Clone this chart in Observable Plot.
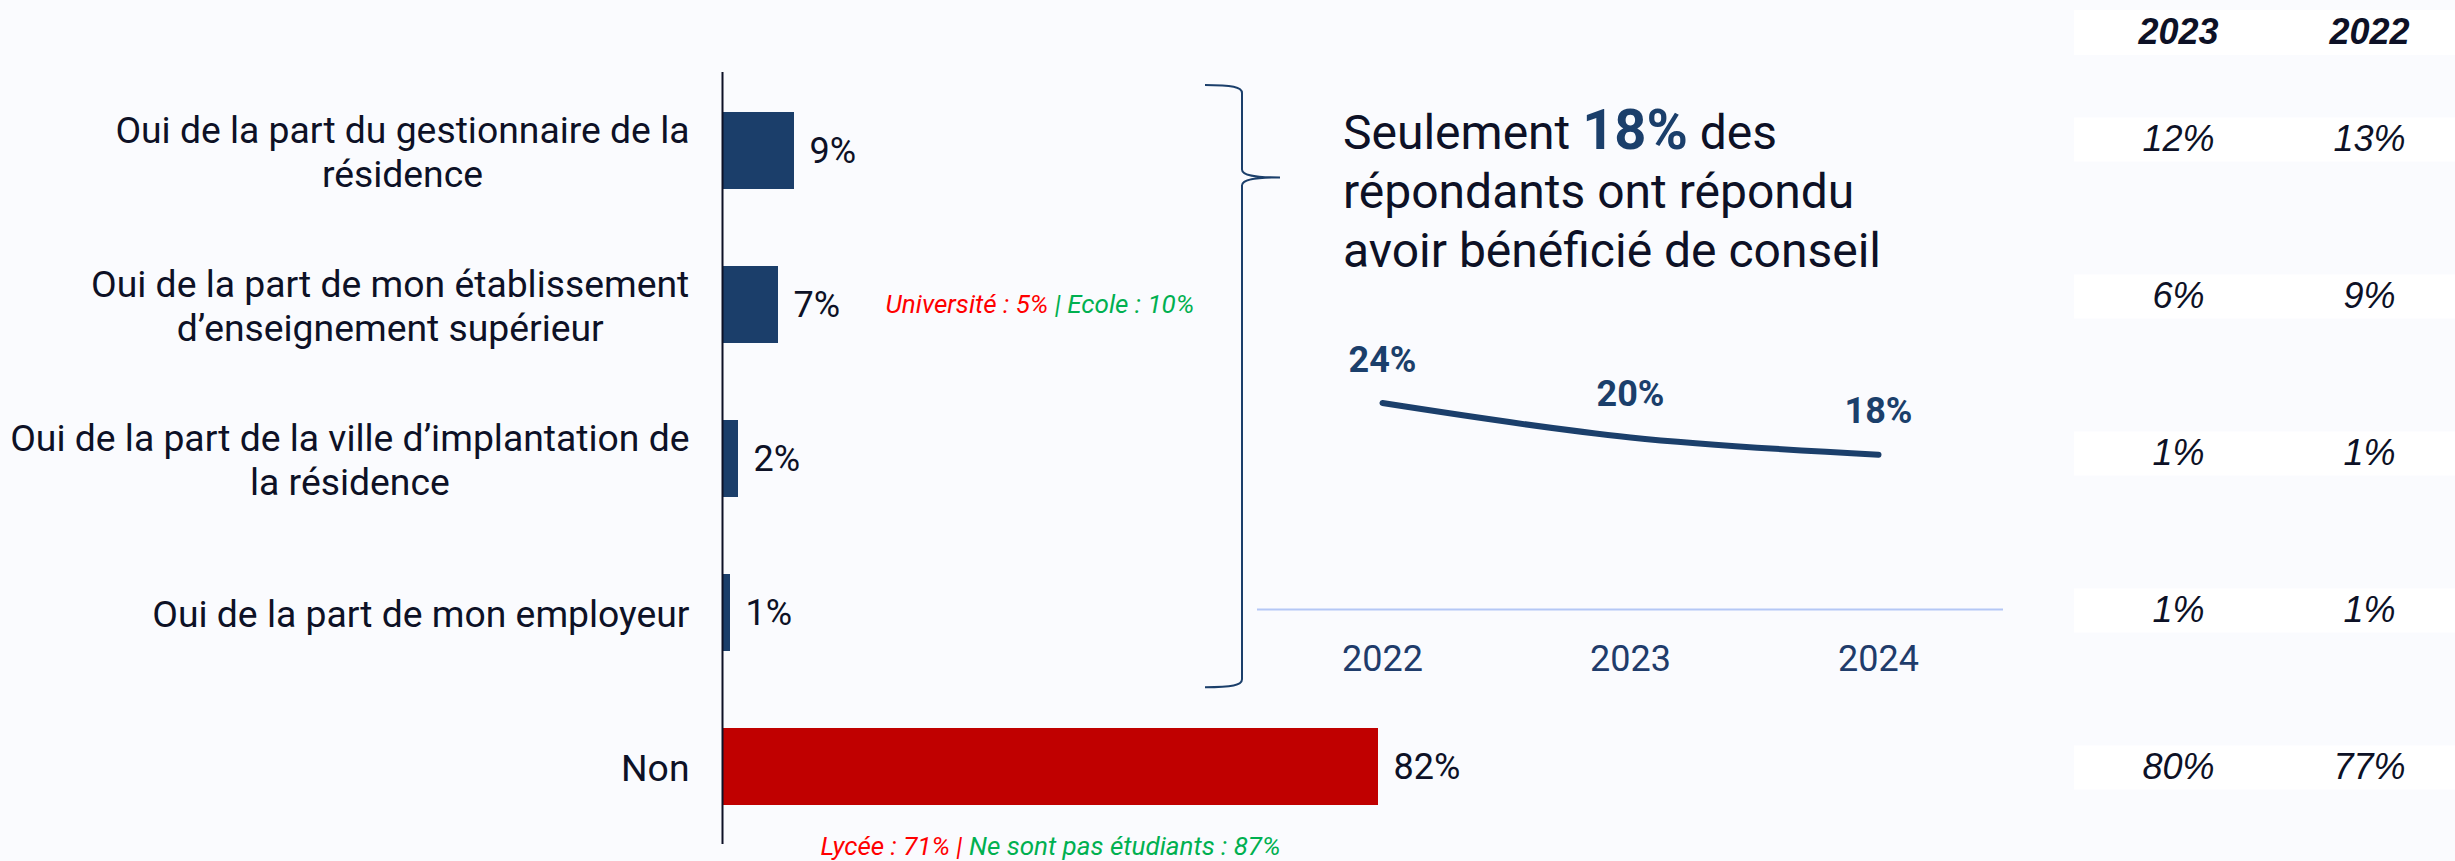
<!DOCTYPE html>
<html><head><meta charset="utf-8">
<script src="https://cdn.jsdelivr.net/npm/d3@7"></script>
<script src="https://cdn.jsdelivr.net/npm/@observablehq/plot@0.6"></script>
<style>
html,body{margin:0;padding:0;background:#fafbfe;}
#root{position:relative;width:2455px;height:861px;overflow:hidden;background:#fafbfe;font-family:Roboto,sans-serif;}
#root > *{position:absolute;}
#headline{left:1343px;top:101px;font-size:48px;line-height:59px;color:#0d1126;white-space:nowrap;}
#headline b{font-weight:700;color:#1b3f6b;font-size:56px;}
</style></head><body><div id="root"><div id="headline">Seulement <b>18%</b> des<br>répondants ont répondu<br>avoir bénéficié de conseil</div></div>
<script>
// ---------- data ----------
const categories = [
  "Oui de la part du gestionnaire de la\nrésidence",
  "Oui de la part de mon établissement\nd’enseignement supérieur",
  "Oui de la part de la ville d’implantation de\nla résidence",
  "Oui de la part de mon employeur",
  "Non"
];
const values2024 = [9, 7, 2, 1, 82];
const barColors = ["#1b3e6a", "#1b3e6a", "#1b3e6a", "#1b3e6a", "#c00000"];

const noteSideCat = categories[1];
const noteSideRed = "Université : 5% ";
const noteSideGreen = "| Ecole : 10%";
const noteBelowCat = categories[4];
const noteBelowRed = "Lycée : 71% | ";
const noteBelowGreen = "Ne sont pas étudiants : 87%";

const trendYears = ["2022", "2023", "2024"];
const trendValues = [24, 20, 18];

const tableYears = ["2023", "2022"];
const values2023 = [12, 6, 1, 1, 80];
const values2022 = [13, 9, 1, 1, 77];

// ---------- colours ----------
const ink = "#0d1126";
const navy = "#1b3f6b";
const red = "#ff0000";
const green = "#00b050";

const root = document.getElementById("root");

// ---------- bar chart ----------
const bars = categories.map((c, i) => ({cat: c, value: values2024[i], color: barColors[i]}));
const barPlot = Plot.plot({
  width: 1530, height: 861,
  marginLeft: 722, marginRight: 8, marginTop: 72, marginBottom: 17,
  style: {background: "transparent", fontFamily: "Roboto", overflow: "visible", color: ink},
  x: {domain: [0, 100], axis: null},
  y: {domain: categories, paddingInner: 0.5, paddingOuter: 0.25, axis: null},
  color: {type: "identity"},
  marks: [
    Plot.barX(bars, {x: "value", y: "cat", fill: "color"}),
    Plot.ruleX([0], {stroke: ink, strokeWidth: 2}),
    Plot.text(bars, {x: "value", y: "cat", text: d => d.value + "%", dx: 15, textAnchor: "start", fontSize: 36, fill: ink}),
    Plot.text(bars, {x: 0, y: "cat", text: "cat", dx: -33, textAnchor: "end", lineAnchor: "middle", lineHeight: 1.19, fontSize: 37.3, fill: ink}),
    Plot.text(bars.filter(d => d.cat === noteSideCat), {x: "value", y: "cat", text: () => noteSideRed + noteSideGreen, dx: 107, textAnchor: "start", fontSize: 26, fontStyle: "italic"}),
    Plot.text(bars.filter(d => d.cat === noteBelowCat), {x: d => d.value / 2, y: "cat", text: () => noteBelowRed + noteBelowGreen, dy: 80, textAnchor: "middle", fontSize: 26, fontStyle: "italic"})
  ]
});
barPlot.style.left = "0px"; barPlot.style.top = "0px";
root.appendChild(barPlot);

const ns = "http://www.w3.org/2000/svg";
// center lines within multi-line category labels (block stays right-aligned to the axis)
barPlot.querySelectorAll("text").forEach(t => {
  const spans = t.querySelectorAll("tspan");
  if (spans.length < 2) return;
  if (!categories.includes(Array.from(spans).map(s => s.textContent).join("\n"))) return;
  const w = t.getBBox().width;
  t.setAttribute("text-anchor", "middle");
  spans.forEach(s => { s.setAttribute("x", -w / 2); s.setAttribute("text-anchor", "middle"); });
});
// two-coloured notes
function colourNote(r, g) {
  barPlot.querySelectorAll("text").forEach(t => {
    if (t.textContent !== r + g) return;
    t.textContent = "";
    t.setAttribute("style", "white-space:pre");
    const a = document.createElementNS(ns, "tspan"); a.setAttribute("fill", red); a.textContent = r;
    const b = document.createElementNS(ns, "tspan"); b.setAttribute("fill", green); b.textContent = g;
    t.appendChild(a); t.appendChild(b);
  });
}
colourNote(noteSideRed, noteSideGreen);
colourNote(noteBelowRed, noteBelowGreen);

// ---------- bracket (decoration derived from the bar band scale) ----------
const ys = barPlot.scale("y");
const bw = ys.bandwidth;
const bTop = ys.apply(categories[0]) - 0.35 * bw;
const bTip = ys.apply(categories[0]) + 0.85 * bw;
const bBot = ys.apply(categories[3]) + 1.47 * bw;
const xe = 1205, xv = 1242, xt = 1280;
const p = d3.path();
p.moveTo(xe, bTop);
p.bezierCurveTo(xv - 10, bTop, xv, bTop + 2, xv, bTop + 8);
p.lineTo(xv, bTip - 8);
p.bezierCurveTo(xv, bTip - 2, xt - 25, bTip, xt, bTip);
p.bezierCurveTo(xt - 25, bTip, xv, bTip + 2, xv, bTip + 8);
p.lineTo(xv, bBot - 8);
p.bezierCurveTo(xv, bBot - 2, xv - 10, bBot, xe, bBot);
const br = d3.create("svg").attr("width", 2455).attr("height", 861)
  .style("left", "0px").style("top", "0px").style("pointer-events", "none");
br.append("path").attr("d", p.toString()).attr("fill", "none").attr("stroke", navy).attr("stroke-width", 2);
root.appendChild(br.node());

// ---------- trend line chart ----------
const trend = trendYears.map((y, i) => ({year: y, value: trendValues[i]}));
const linePlot = Plot.plot({
  width: 746, height: 380,
  marginLeft: 0, marginRight: 0, marginTop: 0, marginBottom: 91,
  style: {background: "transparent", fontFamily: "Roboto", fontSize: "36px", color: "#1f3c6b", overflow: "visible"},
  x: {type: "band", domain: trendYears, padding: 0},
  y: {domain: [0, 33.6], axis: null},
  marks: [
    Plot.ruleY([0], {stroke: "#b4c7f5", strokeWidth: 2}),
    Plot.axisX({tickSize: 0, tickPadding: 36, fontSize: 36, label: null}),
    Plot.line(trend, {x: "year", y: "value", stroke: navy, strokeWidth: 6, strokeLinecap: "round", strokeLinejoin: "round", curve: "catmull-rom"}),
    Plot.text(trend, {x: "year", y: "value", text: d => d.value + "%", dy: -43, fontSize: 36, fontWeight: "bold", fill: navy})
  ]
});
linePlot.style.left = "1257px"; linePlot.style.top = "320px";
root.appendChild(linePlot);

// ---------- comparison table ----------
const cells = [];
categories.forEach((c, i) => {
  cells.push({cat: c, year: "2023", value: values2023[i]});
  cells.push({cat: c, year: "2022", value: values2022[i]});
});
const tablePlot = Plot.plot({
  width: 381, height: 861,
  marginLeft: 0, marginRight: 0, marginTop: 0, marginBottom: 0,
  style: {background: "transparent", fontFamily: "'Liberation Sans', Arial, sans-serif", overflow: "visible"},
  x: {type: "point", domain: tableYears, range: [104, 295], padding: 0, axis: null},
  y: {type: "point", domain: categories, range: [137, 768], padding: 0, axis: null},
  marks: [
    Plot.ruleY([categories[0]], {stroke: "#ffffff", strokeWidth: 45, dy: -107}),
    Plot.ruleY(categories, {stroke: "#ffffff", strokeWidth: 44}),
    Plot.text(tableYears, {x: d => d, frameAnchor: "top", lineAnchor: "middle", dy: 32, text: d => d, fontSize: 36, fontWeight: "bold", fontStyle: "italic", fill: ink}),
    Plot.text(cells, {x: "year", y: "cat", text: d => d.value + "%", fontSize: 36, fontStyle: "italic", fill: ink})
  ]
});
tablePlot.style.left = "2074px"; tablePlot.style.top = "0px";
root.appendChild(tablePlot);
</script></body></html>
